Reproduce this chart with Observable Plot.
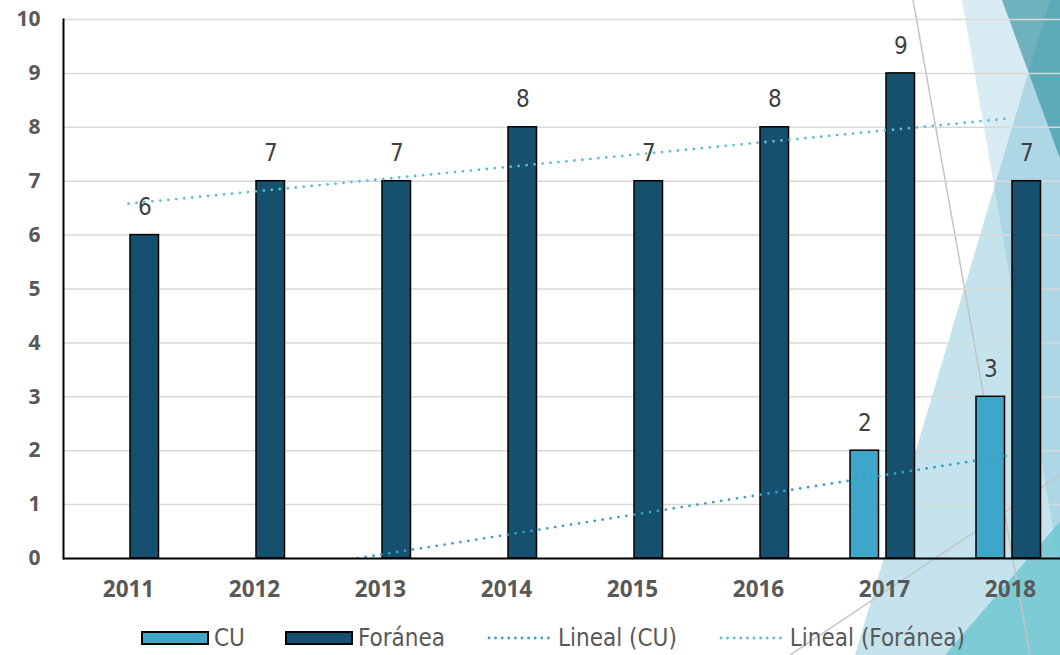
<!DOCTYPE html>
<html>
<head>
<meta charset="utf-8">
<script src="https://cdn.jsdelivr.net/npm/d3@7"></script>
<script src="https://cdn.jsdelivr.net/npm/@observablehq/plot@0.6"></script>
<style>
  html, body { margin: 0; padding: 0; background: #ffffff; overflow: hidden; width: 1060px; height: 655px; }
  #wrap { position: relative; width: 1060px; height: 655px; overflow: hidden; }
  #bg { position: absolute; left: 0; top: 0; }
  #chart { position: absolute; left: 0; top: 0; }
  #legend { position: absolute; left: 141px; top: 615px; height: 46px; display: flex; align-items: center; gap: 40px;
            font-family: "DejaVu Sans Condensed", "DejaVu Sans", sans-serif; font-stretch: condensed; font-size: 24px; color: #595959; }
  .item { display: flex; align-items: center; gap: 5px; white-space: nowrap; }
  .sw { width: 68px; height: 14px; box-sizing: border-box; border: 2px solid #000; }
</style>
</head>
<body>
<div id="wrap">
  <svg id="bg" width="1060" height="655" aria-hidden="true">
    <polygon points="962,0 1100,0 1100,655 1075,655" fill="#d9ecf3"></polygon>
    <polygon points="1050,0 1100,0 1100,655 855,655" fill="rgba(108,184,207,0.4)"></polygon>
    <polygon points="1002,0 1100,0 1100,268" fill="rgba(40,140,155,0.6)"></polygon>
    <polygon points="945,655 1100,475 1100,655" fill="rgba(100,195,205,0.75)"></polygon>
    <line x1="913" y1="0" x2="1030" y2="655" stroke="#c4c4c4" stroke-width="1.5"></line>
    <line x1="790" y1="655" x2="1060" y2="475" stroke="#c4c4c4" stroke-width="1.5"></line>
  </svg>
  <div id="chart"></div>
  <div id="legend"></div>
</div>
<script>
// ---- data ----
const years = ["2011", "2012", "2013", "2014", "2015", "2016", "2017", "2018"];
const cuValues = [null, null, null, null, null, null, 2, 3];
const foraneaValues = [6, 7, 7, 8, 7, 8, 9, 7];
const yTicks = [0, 1, 2, 3, 4, 5, 6, 7, 8, 9, 10];
const seriesNames = ["CU", "Foránea"];
const trendNames = ["Lineal (CU)", "Lineal (Foránea)"];

// ---- colours ----
const cuColor = "#3ea6c9";
const forColor = "#15516f";
const cuTrendColor = "#3a9fc6";
const forTrendColor = "#5bbfca";

const cuData = years.map((year, i) => ({year, value: cuValues[i]})).filter(d => d.value != null);
const forData = years.map((year, i) => ({year, value: foraneaValues[i]}));

// Excel-style linear trendline over category index 1..n (blank cells count as 0)
function trend(values) {
  const ys = values.map(v => v ?? 0);
  const xs = ys.map((_, i) => i + 1);
  const mx = d3.mean(xs), my = d3.mean(ys);
  const slope = d3.sum(xs, (x, i) => (x - mx) * (ys[i] - my)) / d3.sum(xs, x => (x - mx) ** 2);
  const b = my - slope * mx;
  const n = ys.length;
  return [{year: years[0], value: b + slope * 1}, {year: years[n - 1], value: b + slope * n}];
}

const labelFont = "'DejaVu Sans Condensed', 'DejaVu Sans', sans-serif";
const axisFont = "'Open Sans', 'DejaVu Sans', sans-serif";
const dotted = {strokeWidth: 2.8, strokeDasharray: "0 8", strokeLinecap: "round", clip: true};

const chart = Plot.plot({
  width: 1060,
  height: 615,
  marginTop: 19,
  marginBottom: 57,
  marginLeft: 63,
  marginRight: 0,
  style: {background: "transparent", fontFamily: labelFont, overflow: "visible"},
  x: {type: "band", domain: years, range: [63, 1075], padding: 0},
  y: {domain: [0, 10]},
  marks: [
    Plot.gridY(yTicks, {stroke: "#d9d9d9", strokeOpacity: 1, strokeWidth: 1.5}),
    Plot.barY(cuData, {x: "year", y: "value", fill: cuColor, stroke: "#000", strokeWidth: 1.5, insetLeft: 29, insetRight: 68.5}),
    Plot.barY(forData, {x: "year", y: "value", fill: forColor, stroke: "#000", strokeWidth: 1.5, insetLeft: 65, insetRight: 32.5}),
    Plot.line(trend(cuValues), {x: "year", y: "value", stroke: cuTrendColor, ...dotted}),
    Plot.line(trend(foraneaValues), {x: "year", y: "value", stroke: forTrendColor, ...dotted}),
    Plot.text(cuData, {x: "year", y: "value", text: d => String(d.value), dx: -19.75, dy: -27.5, fontSize: 24, fontFamily: labelFont, fill: "#404040"}),
    Plot.text(forData, {x: "year", y: "value", text: d => String(d.value), dx: 16.25, dy: -27.5, fontSize: 24, fontFamily: labelFont, fill: "#404040"}),
    Plot.ruleY([0], {stroke: "#000", strokeWidth: 2}),
    Plot.frame({anchor: "left", stroke: "#000", strokeWidth: 2}),
    Plot.axisY(yTicks, {tickSize: 0, tickPadding: 23, tickFormat: d => String(d), fontSize: 21, fontWeight: "bold", fontFamily: axisFont, fill: "#595959", label: null}),
    Plot.axisX({tickSize: 0, tickPadding: 23, fontSize: 22.5, fontWeight: "bold", fontFamily: axisFont, fill: "#595959", label: null})
  ]
});
document.getElementById("chart").append(chart);

// ---- legend ----
const legend = d3.select("#legend");
[[seriesNames[0], cuColor], [seriesNames[1], forColor]].forEach(([name, color]) => {
  const it = legend.append("div").attr("class", "item");
  it.append("div").attr("class", "sw").style("background", color);
  it.append("span").text(name);
});
[[trendNames[0], cuTrendColor], [trendNames[1], forTrendColor]].forEach(([name, color]) => {
  const it = legend.append("div").attr("class", "item");
  const s = it.append("svg").attr("width", 68).attr("height", 14);
  s.append("line").attr("x1", 4).attr("x2", 64).attr("y1", 7).attr("y2", 7)
    .attr("stroke", color).attr("stroke-width", 2.8).attr("stroke-dasharray", "0 6.6").attr("stroke-linecap", "round");
  it.append("span").text(name);
});
</script>
</body>
</html>
